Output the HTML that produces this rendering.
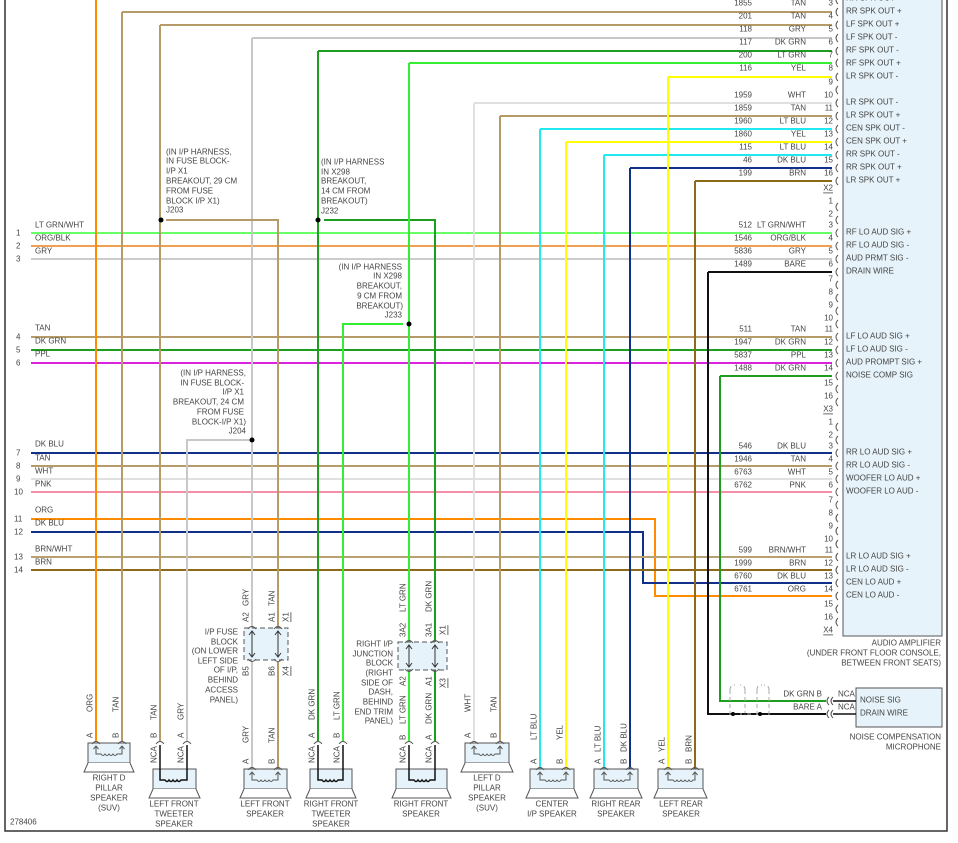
<!DOCTYPE html>
<html><head><meta charset="utf-8"><style>
html,body{margin:0;padding:0;background:#fff;}
svg{display:block;font-family:"Liberation Sans",sans-serif;font-size:8px;fill:#444;}
text{fill:#444;dominant-baseline:central;}
.r{text-anchor:end}.m{text-anchor:middle}
.w{fill:none;stroke-width:2}
.k{fill:none;stroke:#111;stroke-width:1.5}
.bx{fill:#e6f3fa;stroke:#555;stroke-width:1}
.tp{fill:#fff;stroke:#555;stroke-width:1}
.c{fill:none;stroke:#555;stroke-width:1}
</style></head><body>
<svg width="958" height="843" viewBox="0 0 958 843">
<path d="M5,0V831H947V0" fill="none" stroke="#333" stroke-width="1.5"/>
<rect x="843" y="-2" width="99" height="638" class="bx"/>
<g class="w">
<path d="M122,12H832" stroke="#b59b68"/>
<path d="M160,25H832" stroke="#b59b68"/>
<path d="M252,38H832" stroke="#c8c8c8"/>
<path d="M318,51H832" stroke="#1e9e1e"/>
<path d="M409,63H832" stroke="#33ee33"/>
<path d="M668,77H832" stroke="#ffff00"/>
<path d="M474,103H832" stroke="#e0e0e0"/>
<path d="M500,116H832" stroke="#b59b68"/>
<path d="M540,129H832" stroke="#22e8f0"/>
<path d="M566,142H832" stroke="#ffff00"/>
<path d="M604,155H832" stroke="#22e8f0"/>
<path d="M630,168H832" stroke="#10308a"/>
<path d="M695,181H832" stroke="#8b6a1a"/>
<path d="M31,233H832" stroke="#66ff66"/>
<path d="M31,246H832" stroke="#f0a050"/>
<path d="M31,259H832" stroke="#cccccc"/>
<path d="M31,337H832" stroke="#b59b68"/>
<path d="M31,350H832" stroke="#1e9e1e"/>
<path d="M31,363H832" stroke="#dd22dd"/>
<path d="M31,453H832" stroke="#10308a"/>
<path d="M31,466H832" stroke="#b59b68"/>
<path d="M31,479H832" stroke="#e0e0e0"/>
<path d="M31,492H832" stroke="#f58fa8"/>
<path d="M31,519H655V596H832" stroke="#ff8c00"/>
<path d="M31,532H643V583H832" stroke="#10308a"/>
<path d="M31,557H832" stroke="#b8a070"/>
<path d="M31,570H832" stroke="#8b6a1a"/>
<path d="M96,0V741" stroke="#ff8c00"/>
<path d="M122,12V741" stroke="#b59b68"/>
<path d="M160,25V741" stroke="#b59b68"/>
<path d="M252,38V628M252,662V769" stroke="#c8c8c8"/>
<path d="M250,440H187V741" stroke="#c8c8c8"/>
<path d="M166,220H278V628M278,662V769" stroke="#b59b68"/>
<path d="M318,51V741" stroke="#1e9e1e"/>
<path d="M324,220H435V642M435,670V741" stroke="#1e9e1e"/>
<path d="M409,63V642M409,670V741" stroke="#33ee33"/>
<path d="M403,324H343V741" stroke="#33ee33"/>
<path d="M668,77V769" stroke="#ffff00"/>
<path d="M474,103V741" stroke="#e0e0e0"/>
<path d="M500,116V741" stroke="#b59b68"/>
<path d="M540,129V769" stroke="#22e8f0"/>
<path d="M566,142V769" stroke="#ffff00"/>
<path d="M604,155V769" stroke="#22e8f0"/>
<path d="M630,168V769" stroke="#10308a"/>
<path d="M695,181V769" stroke="#8b6a1a"/>
<path d="M708,272H832M708,272V714H826" stroke="#111"/>
<path d="M720,376H832M720,376V701H826" stroke="#1e9e1e"/>
</g>
<g fill="#000">
<circle cx="161" cy="220" r="2.5"/><circle cx="318" cy="220" r="2.5"/><circle cx="409" cy="324" r="2.5"/><circle cx="252" cy="440" r="2.5"/>
<circle cx="733" cy="714" r="2"/><circle cx="760" cy="714" r="2"/>
</g>
<g class="c">
<path d="M838,-4q-4,4 0,8M838,8q-4,4 0,8M838,21q-4,4 0,8M838,34q-4,4 0,8M838,47q-4,4 0,8M838,59q-4,4 0,8M838,73q-4,4 0,8M838,86q-4,4 0,8M838,99q-4,4 0,8M838,112q-4,4 0,8M838,125q-4,4 0,8M838,138q-4,4 0,8M838,151q-4,4 0,8M838,164q-4,4 0,8M838,177q-4,4 0,8"/>
<path d="M838,203q-4,4 0,8M838,216q-4,4 0,8M838,229q-4,4 0,8M838,242q-4,4 0,8M838,255q-4,4 0,8M838,268q-4,4 0,8M838,281q-4,4 0,8M838,294q-4,4 0,8M838,307q-4,4 0,8M838,320q-4,4 0,8M838,333q-4,4 0,8M838,346q-4,4 0,8M838,359q-4,4 0,8M838,372q-4,4 0,8M838,385q-4,4 0,8M838,398q-4,4 0,8"/>
<path d="M838,423q-4,4 0,8M838,436q-4,4 0,8M838,449q-4,4 0,8M838,462q-4,4 0,8M838,475q-4,4 0,8M838,488q-4,4 0,8M838,501q-4,4 0,8M838,514q-4,4 0,8M838,527q-4,4 0,8M838,540q-4,4 0,8M838,553q-4,4 0,8M838,566q-4,4 0,8M838,579q-4,4 0,8M838,592q-4,4 0,8M838,605q-4,4 0,8M838,618q-4,4 0,8"/>
</g>
<g class="r">
<text x="752" y="3">1855</text><text x="806" y="3">TAN</text><text x="833" y="3">3</text>
<text x="752" y="16">201</text><text x="806" y="16">TAN</text><text x="833" y="16">4</text>
<text x="752" y="29">118</text><text x="806" y="29">GRY</text><text x="833" y="29">5</text>
<text x="752" y="42">117</text><text x="806" y="42">DK GRN</text><text x="833" y="42">6</text>
<text x="752" y="55">200</text><text x="806" y="55">LT GRN</text><text x="833" y="55">7</text>
<text x="752" y="68">116</text><text x="806" y="68">YEL</text><text x="833" y="68">8</text>
<text x="833" y="82">9</text>
<text x="752" y="95">1959</text><text x="806" y="95">WHT</text><text x="833" y="95">10</text>
<text x="752" y="108">1859</text><text x="806" y="108">TAN</text><text x="833" y="108">11</text>
<text x="752" y="121">1960</text><text x="806" y="121">LT BLU</text><text x="833" y="121">12</text>
<text x="752" y="134">1860</text><text x="806" y="134">YEL</text><text x="833" y="134">13</text>
<text x="752" y="147">115</text><text x="806" y="147">LT BLU</text><text x="833" y="147">14</text>
<text x="752" y="160">46</text><text x="806" y="160">DK BLU</text><text x="833" y="160">15</text>
<text x="752" y="173">199</text><text x="806" y="173">BRN</text><text x="833" y="173">16</text>
<text x="833" y="188" text-decoration="underline">X2</text>
<text x="833" y="201">1</text><text x="833" y="214">2</text>
<text x="752" y="225">512</text><text x="806" y="225">LT GRN/WHT</text><text x="833" y="225">3</text>
<text x="752" y="238">1546</text><text x="806" y="238">ORG/BLK</text><text x="833" y="238">4</text>
<text x="752" y="251">5836</text><text x="806" y="251">GRY</text><text x="833" y="251">5</text>
<text x="752" y="264">1489</text><text x="806" y="264">BARE</text><text x="833" y="264">6</text>
<text x="833" y="279">7</text><text x="833" y="292">8</text><text x="833" y="305">9</text><text x="833" y="318">10</text>
<text x="752" y="329">511</text><text x="806" y="329">TAN</text><text x="833" y="329">11</text>
<text x="752" y="342">1947</text><text x="806" y="342">DK GRN</text><text x="833" y="342">12</text>
<text x="752" y="355">5837</text><text x="806" y="355">PPL</text><text x="833" y="355">13</text>
<text x="752" y="368">1488</text><text x="806" y="368">DK GRN</text><text x="833" y="368">14</text>
<text x="833" y="383">15</text><text x="833" y="396">16</text>
<text x="833" y="409" text-decoration="underline">X3</text>
<text x="833" y="422">1</text><text x="833" y="435">2</text>
<text x="752" y="446">546</text><text x="806" y="446">DK BLU</text><text x="833" y="446">3</text>
<text x="752" y="459">1946</text><text x="806" y="459">TAN</text><text x="833" y="459">4</text>
<text x="752" y="472">6763</text><text x="806" y="472">WHT</text><text x="833" y="472">5</text>
<text x="752" y="485">6762</text><text x="806" y="485">PNK</text><text x="833" y="485">6</text>
<text x="833" y="500">7</text><text x="833" y="513">8</text><text x="833" y="526">9</text><text x="833" y="539">10</text>
<text x="752" y="550">599</text><text x="806" y="550">BRN/WHT</text><text x="833" y="550">11</text>
<text x="752" y="563">1999</text><text x="806" y="563">BRN</text><text x="833" y="563">12</text>
<text x="752" y="576">6760</text><text x="806" y="576">DK BLU</text><text x="833" y="576">13</text>
<text x="752" y="589">6761</text><text x="806" y="589">ORG</text><text x="833" y="589">14</text>
<text x="833" y="604">15</text><text x="833" y="617">16</text>
<text x="833" y="630" text-decoration="underline">X4</text>
</g>
<g>
<text x="846" y="-2">RR SPK OUT -</text>
<text x="846" y="11">RR SPK OUT +</text><text x="846" y="24">LF SPK OUT +</text><text x="846" y="37">LF SPK OUT -</text>
<text x="846" y="50">RF SPK OUT -</text><text x="846" y="63">RF SPK OUT +</text><text x="846" y="76">LR SPK OUT -</text>
<text x="846" y="102">LR SPK OUT -</text><text x="846" y="115">LR SPK OUT +</text><text x="846" y="128">CEN SPK OUT -</text>
<text x="846" y="141">CEN SPK OUT +</text><text x="846" y="154">RR SPK OUT -</text><text x="846" y="167">RR SPK OUT +</text>
<text x="846" y="180">LR SPK OUT +</text>
<text x="846" y="232">RF LO AUD SIG +</text><text x="846" y="245">RF LO AUD SIG -</text><text x="846" y="258">AUD PRMT SIG -</text>
<text x="846" y="271">DRAIN WIRE</text>
<text x="846" y="336">LF LO AUD SIG +</text><text x="846" y="349">LF LO AUD SIG -</text><text x="846" y="362">AUD PROMPT SIG +</text>
<text x="846" y="375">NOISE COMP SIG</text>
<text x="846" y="452">RR LO AUD SIG +</text><text x="846" y="465">RR LO AUD SIG -</text><text x="846" y="478">WOOFER LO AUD +</text>
<text x="846" y="491">WOOFER LO AUD -</text>
<text x="846" y="556">LR LO AUD SIG +</text><text x="846" y="569">LR LO AUD SIG -</text><text x="846" y="582">CEN LO AUD +</text>
<text x="846" y="595">CEN LO AUD -</text>
</g>
<g class="r">
<text x="941" y="643">AUDIO AMPLIFIER</text>
<text x="941" y="653">(UNDER FRONT FLOOR CONSOLE,</text>
<text x="941" y="663">BETWEEN FRONT SEATS)</text>
<text x="941" y="737">NOISE COMPENSATION</text>
<text x="941" y="747">MICROPHONE</text>
<text x="822" y="694">DK GRN  B</text>
<text x="822" y="707">BARE  A</text>
</g>
<rect x="856" y="688" width="86" height="39" class="bx"/>
<text x="860" y="700">NOISE SIG</text><text x="860" y="713">DRAIN WIRE</text>
<text x="838" y="694">NCA</text><text x="838" y="707">NCA</text>
<path d="M833,701H856M833,714H856" class="k"/>
<path d="M829,697q-4,4 0,8M833,697q-4,4 0,8M829,710q-4,4 0,8M833,710q-4,4 0,8" class="c"/>
<path d="M730,690q0,-5 5,-5M745,690q0,-5 -5,-5M757,690q0,-5 5,-5M769,690q0,-5 -5,-5M730,690V716M745,690V716M757,690V716M769,690V716M733,714H760" fill="none" stroke="#aaa" stroke-dasharray="4,3"/>
<path d="M733,714H760" stroke="#111" stroke-width="1.5" stroke-dasharray="5,4"/>
<g>
<text x="16" y="233">1</text><text x="35" y="225">LT GRN/WHT</text>
<text x="16" y="246">2</text><text x="35" y="238">ORG/BLK</text>
<text x="16" y="259">3</text><text x="35" y="251">GRY</text>
<text x="16" y="337">4</text><text x="35" y="328">TAN</text>
<text x="16" y="350">5</text><text x="35" y="341">DK GRN</text>
<text x="16" y="363">6</text><text x="35" y="354">PPL</text>
<text x="16" y="453">7</text><text x="35" y="444">DK BLU</text>
<text x="16" y="466">8</text><text x="35" y="458">TAN</text>
<text x="16" y="479">9</text><text x="35" y="471">WHT</text>
<text x="14" y="492">10</text><text x="35" y="484">PNK</text>
<text x="14" y="519">11</text><text x="35" y="510">ORG</text>
<text x="14" y="532">12</text><text x="35" y="523">DK BLU</text>
<text x="14" y="557">13</text><text x="35" y="549">BRN/WHT</text>
<text x="14" y="570">14</text><text x="35" y="562">BRN</text>
<text x="10" y="822">278406</text>
</g>
<g>
<text x="166" y="152">(IN I/P HARNESS,</text><text x="166" y="161">IN FUSE BLOCK-</text><text x="166" y="171">I/P X1</text>
<text x="166" y="181">BREAKOUT, 29 CM</text><text x="166" y="191">FROM FUSE</text><text x="166" y="201">BLOCK I/P X1)</text><text x="166" y="210">J203</text>
<text x="321" y="162">(IN I/P HARNESS</text><text x="321" y="172">IN X298</text><text x="321" y="181">BREAKOUT,</text>
<text x="321" y="191">14 CM FROM</text><text x="321" y="201">BREAKOUT)</text><text x="321" y="211">J232</text>
</g>
<g class="r">
<text x="402" y="267">(IN I/P HARNESS</text><text x="402" y="276">IN X298</text><text x="402" y="286">BREAKOUT,</text>
<text x="402" y="296">9 CM FROM</text><text x="403" y="306">BREAKOUT)</text><text x="402" y="315">J233</text>
<text x="246" y="373">(IN I/P HARNESS,</text><text x="244" y="383">IN FUSE BLOCK-</text><text x="244" y="392">I/P X1</text>
<text x="244" y="402">BREAKOUT, 24 CM</text><text x="244" y="412">FROM FUSE</text><text x="246" y="422">BLOCK-I/P X1)</text><text x="246" y="431">J204</text>
<text x="238" y="632">I/P FUSE</text><text x="238" y="642">BLOCK</text><text x="238" y="651">(ON LOWER</text><text x="238" y="661">LEFT SIDE</text>
<text x="238" y="670">OF I/P,</text><text x="238" y="680">BEHIND</text><text x="238" y="690">ACCESS</text><text x="238" y="700">PANEL)</text>
<text x="393" y="644">RIGHT I/P</text><text x="393" y="654">JUNCTION</text><text x="393" y="663">BLOCK</text><text x="393" y="673">(RIGHT</text>
<text x="393" y="683">SIDE OF</text><text x="393" y="692">DASH,</text><text x="393" y="702">BEHIND</text><text x="393" y="712">END TRIM</text><text x="393" y="721">PANEL)</text>
</g>
<rect x="244" y="628" width="44" height="32" fill="#e6f3fa" stroke="#555" stroke-dasharray="5,3"/>
<path d="M252,631V657M278,631V657M249,635l3,-4 3,4M249,653l3,4 3,-4M275,635l3,-4 3,4M275,653l3,4 3,-4" fill="none" stroke="#333" stroke-width="1"/>
<path d="M248,629q4,-5 8,0M274,629q4,-5 8,0M248,659q4,5 8,0M274,659q4,5 8,0" class="c"/>
<rect x="398" y="642" width="49" height="28" fill="#e6f3fa" stroke="#555" stroke-dasharray="5,3"/>
<path d="M409,645V667M435,645V667M406,649l3,-4 3,4M406,663l3,4 3,-4M432,649l3,-4 3,4M432,663l3,4 3,-4" fill="none" stroke="#333" stroke-width="1"/>
<path d="M405,643q4,-5 8,0M431,643q4,-5 8,0M405,669q4,5 8,0M431,669q4,5 8,0" class="c"/>
<g>
<text transform="translate(246,622) rotate(-90)">A2</text><text transform="translate(246,606) rotate(-90)">GRY</text>
<text transform="translate(272,622) rotate(-90)">A1</text><text transform="translate(272,606) rotate(-90)">TAN</text>
<text transform="translate(286,622) rotate(-90)" text-decoration="underline">X1</text>
<text transform="translate(246,676) rotate(-90)">B5</text><text transform="translate(272,676) rotate(-90)">B6</text>
<text transform="translate(286,676) rotate(-90)" text-decoration="underline">X4</text>
<text transform="translate(403,637) rotate(-90)">3A2</text><text transform="translate(403,612) rotate(-90)">LT GRN</text>
<text transform="translate(429,637) rotate(-90)">3A1</text><text transform="translate(429,612) rotate(-90)">DK GRN</text>
<text transform="translate(443,635) rotate(-90)" text-decoration="underline">X1</text>
<text transform="translate(403,686) rotate(-90)">A2</text><text transform="translate(429,686) rotate(-90)">A1</text>
<text transform="translate(443,688) rotate(-90)" text-decoration="underline">X3</text>
</g>
<g>
<text transform="translate(90,712) rotate(-90)">ORG</text><text transform="translate(116,712) rotate(-90)">TAN</text>
<text transform="translate(90,738) rotate(-90)">A</text><text transform="translate(116,738) rotate(-90)">B</text>
<text transform="translate(154,720) rotate(-90)">TAN</text><text transform="translate(181,720) rotate(-90)">GRY</text>
<text transform="translate(154,738) rotate(-90)">B</text><text transform="translate(181,738) rotate(-90)">A</text>
<text transform="translate(154,763) rotate(-90)">NCA</text><text transform="translate(181,763) rotate(-90)">NCA</text>
<text transform="translate(246,743) rotate(-90)">GRY</text><text transform="translate(272,743) rotate(-90)">TAN</text>
<text transform="translate(246,764) rotate(-90)">A</text><text transform="translate(272,764) rotate(-90)">B</text>
<text transform="translate(312,720) rotate(-90)">DK GRN</text><text transform="translate(337,720) rotate(-90)">LT GRN</text>
<text transform="translate(312,738) rotate(-90)">A</text><text transform="translate(337,738) rotate(-90)">B</text>
<text transform="translate(312,763) rotate(-90)">NCA</text><text transform="translate(337,763) rotate(-90)">NCA</text>
<text transform="translate(403,724) rotate(-90)">LT GRN</text><text transform="translate(429,724) rotate(-90)">DK GRN</text>
<text transform="translate(403,740) rotate(-90)">B</text><text transform="translate(429,740) rotate(-90)">A</text>
<text transform="translate(403,763) rotate(-90)">NCA</text><text transform="translate(429,763) rotate(-90)">NCA</text>
<text transform="translate(468,712) rotate(-90)">WHT</text><text transform="translate(494,712) rotate(-90)">TAN</text>
<text transform="translate(468,738) rotate(-90)">A</text><text transform="translate(494,738) rotate(-90)">B</text>
<text transform="translate(534,740) rotate(-90)">LT BLU</text><text transform="translate(560,740) rotate(-90)">YEL</text>
<text transform="translate(534,764) rotate(-90)">A</text><text transform="translate(560,764) rotate(-90)">B</text>
<text transform="translate(598,752) rotate(-90)">LT BLU</text><text transform="translate(624,752) rotate(-90)">DK BLU</text>
<text transform="translate(598,764) rotate(-90)">A</text><text transform="translate(624,764) rotate(-90)">B</text>
<text transform="translate(662,752) rotate(-90)">YEL</text><text transform="translate(689,752) rotate(-90)">BRN</text>
<text transform="translate(662,764) rotate(-90)">A</text><text transform="translate(689,764) rotate(-90)">B</text>
</g>
<g>
<rect x="88" y="743" width="42" height="20" class="bx"/><path d="M88,763L84,772H134L130,763" class="tp"/>
<path d="M92,744q4,-5 8,0M118,744q4,-5 8,0" class="c"/>
<path d="M96,746V754H101q2,3 4,0q2,3 4,0q2,3 4,0q2,3 4,0H122V746M93.5,749l2.5,-3 2.5,3M119.5,749l2.5,-3 2.5,3" class="c" stroke="#222"/>
<rect x="465" y="743" width="44" height="20" class="bx"/><path d="M465,763L461,772H513L509,763" class="tp"/>
<path d="M470,744q4,-5 8,0M496,744q4,-5 8,0" class="c"/>
<path d="M474,746V754H479q2,3 4,0q2,3 4,0q2,3 4,0q2,3 4,0H500V746M471.5,749l2.5,-3 2.5,3M497.5,749l2.5,-3 2.5,3" class="c" stroke="#222"/>
</g>
<g>
<rect x="244" y="769" width="43" height="20" class="bx"/><path d="M244,789L240,798H291L287,789" class="tp"/>
<path d="M248,770q4,-5 8,0M274,770q4,-5 8,0" class="c"/>
<path d="M252,772V780H257q2,3 4,0q2,3 4,0q2,3 4,0q2,3 4,0H278V772M249.5,775l2.5,-3 2.5,3M275.5,775l2.5,-3 2.5,3" class="c" stroke="#222"/>
<rect x="530" y="769" width="44" height="20" class="bx"/><path d="M530,789L526,798H578L574,789" class="tp"/>
<path d="M536,770q4,-5 8,0M562,770q4,-5 8,0" class="c"/>
<path d="M540,772V780H545q2,3 4,0q2,3 4,0q2,3 4,0q2,3 4,0H566V772M537.5,775l2.5,-3 2.5,3M563.5,775l2.5,-3 2.5,3" class="c" stroke="#222"/>
<rect x="594" y="769" width="44" height="20" class="bx"/><path d="M594,789L590,798H642L638,789" class="tp"/>
<path d="M600,770q4,-5 8,0M626,770q4,-5 8,0" class="c"/>
<path d="M604,772V780H609q2,3 4,0q2,3 4,0q2,3 4,0q2,3 4,0H630V772M601.5,775l2.5,-3 2.5,3M627.5,775l2.5,-3 2.5,3" class="c" stroke="#222"/>
<rect x="658" y="769" width="45" height="20" class="bx"/><path d="M658,789L654,798H707L703,789" class="tp"/>
<path d="M664,770q4,-5 8,0M691,770q4,-5 8,0" class="c"/>
<path d="M668,772V780H673q2,3 4,0q2,3 4,0q2,3 4,0q2,3 4,0q2,3 4,0H695V772M665.5,775l2.5,-3 2.5,3M692.5,775l2.5,-3 2.5,3" class="c" stroke="#222"/>
</g>
<g>
<rect x="153" y="769" width="43" height="20" class="bx"/><path d="M153,789L149,798H200L196,789" class="tp"/>
<path d="M156,744q4,-5 8,0M183,744q4,-5 8,0" class="c"/>
<path d="M160,745V780H165q2,3 4,0q2,3 4,0q2,3 4,0q2,3 4,0H187V745" class="k"/>
<rect x="310" y="769" width="42" height="20" class="bx"/><path d="M310,789L306,798H356L352,789" class="tp"/>
<path d="M314,744q4,-5 8,0M339,744q4,-5 8,0" class="c"/>
<path d="M318,745V780H322q2,3 4,0q2,3 4,0q2,3 4,0q2,3 4,0H343V745" class="k"/>
<rect x="396" y="769" width="51" height="20" class="bx"/><path d="M396,789L392,798H451L447,789" class="tp"/>
<path d="M405,744q4,-5 8,0M431,744q4,-5 8,0" class="c"/>
<path d="M409,745V780H414q2,3 4,0q2,3 4,0q2,3 4,0q2,3 4,0H435V745" class="k"/>
</g>
<g class="m">
<text x="109" y="778">RIGHT D</text><text x="109" y="788">PILLAR</text><text x="109" y="798">SPEAKER</text><text x="109" y="808">(SUV)</text>
<text x="174" y="804">LEFT FRONT</text><text x="174" y="814">TWEETER</text><text x="174" y="824">SPEAKER</text>
<text x="265" y="804">LEFT FRONT</text><text x="265" y="814">SPEAKER</text>
<text x="331" y="804">RIGHT FRONT</text><text x="331" y="814">TWEETER</text><text x="331" y="824">SPEAKER</text>
<text x="421" y="804">RIGHT FRONT</text><text x="421" y="814">SPEAKER</text>
<text x="487" y="778">LEFT D</text><text x="487" y="788">PILLAR</text><text x="487" y="798">SPEAKER</text><text x="487" y="808">(SUV)</text>
<text x="552" y="804">CENTER</text><text x="552" y="814">I/P SPEAKER</text>
<text x="616" y="804">RIGHT REAR</text><text x="616" y="814">SPEAKER</text>
<text x="681" y="804">LEFT REAR</text><text x="681" y="814">SPEAKER</text>
</g>
</svg>
</body></html>
